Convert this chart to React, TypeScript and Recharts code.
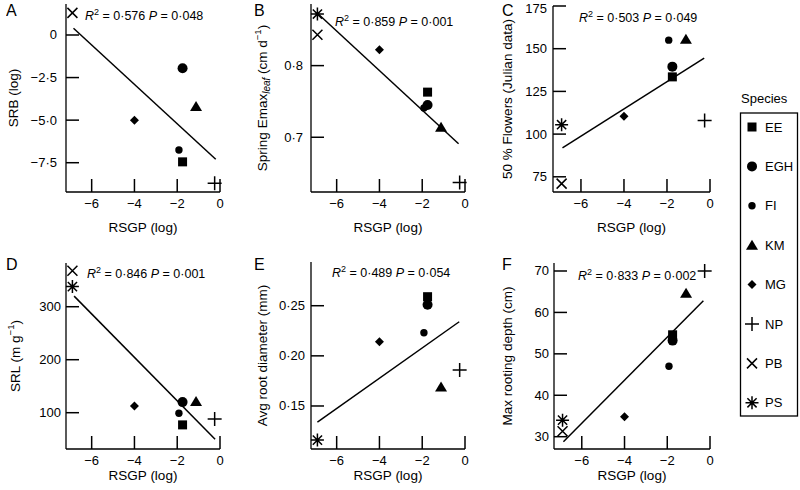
import React from "react";
import {
  ScatterChart,
  Scatter,
  XAxis,
  YAxis,
  ReferenceLine,
  Customized,
  Legend,
} from "recharts";

const FONT = '"Liberation Sans", Arial, Helvetica, sans-serif';

// species and their RSGP (log) value, shared by every panel
const species = ["EE", "EGH", "FI", "KM", "MG", "NP", "PB", "PS"];
const rsgp = [-1.75, -1.75, -1.92, -1.12, -4.0, -0.25, -6.9, -6.9];

// panel values, same order as species (null = not plotted)
const srb = [-7.45, -1.95, -6.75, -4.2, -5.0, -8.7, 1.3, null];
const emaxLeaf = [0.763, 0.745, 0.741, 0.714, 0.822, 0.637, 0.843, 0.872];
const flowers50 = [133.5, 139.5, 155, 155.5, 110.5, 108, 71, 105.5];
const srl = [77, 120, 99, 121, 112.5, 88, 368, 338];
const rootDiam = [0.259, 0.251, 0.223, 0.169, 0.214, 0.186, null, 0.116];
const rootDepth = [54.6, 53.2, 47, 64.6, 34.8, 70, 31.3, 34];

// regression lines: [x1, y1, x2, y2]
const fitA = [-6.85, 0.4, -0.2, -7.3];
const fitB = [-6.9, 0.873, -0.3, 0.691];
const fitC = [-6.86, 92, -0.27, 144.5];
const fitD = [-6.82, 320, -0.23, 50];
const fitE = [-6.9, 0.134, -0.27, 0.234];
const fitF = [-6.86, 28.8, -0.31, 62.8];

const r2Values = ["0·576", "0·859", "0·503", "0·846", "0·489", "0·833"];
const pValues = ["0·048", "0·001", "0·049", "0·001", "0·054", "0·002"];

const xTicks = [-6, -4, -2, 0];
const ticksA = [0, -2.5, -5, -7.5];
const ticksB = [0.8, 0.7];
const ticksC = [175, 150, 125, 100, 75];
const ticksD = [300, 200, 100];
const ticksE = [0.25, 0.2, 0.15];
const ticksF = [70, 60, 50, 40, 30];

const fmt = (d: number) => (v: number) =>
  v === 0 ? "0" : v.toFixed(d).replace("-", "\u2212").replace(".", "·");

const TICK_LEN = 13;
const AXIS_W = 60;
const TOP_M = 12;

function Marker({ cx, cy, kind }: { cx: number; cy: number; kind: string }) {
  const s = { stroke: "#000", strokeWidth: 1.5, fill: "none" };
  switch (kind) {
    case "EE":
      return <rect x={cx - 4.5} y={cy - 4.5} width={9} height={9} fill="#000" />;
    case "EGH":
      return <circle cx={cx} cy={cy} r={5} fill="#000" />;
    case "FI":
      return <circle cx={cx} cy={cy} r={3.7} fill="#000" />;
    case "KM":
      return (
        <polygon
          points={`${cx},${cy - 5.5} ${cx + 6},${cy + 4.5} ${cx - 6},${cy + 4.5}`}
          fill="#000"
        />
      );
    case "MG":
      return (
        <polygon
          points={`${cx},${cy - 4.5} ${cx + 4.5},${cy} ${cx},${cy + 4.5} ${cx - 4.5},${cy}`}
          fill="#000"
        />
      );
    case "NP":
      return (
        <path d={`M${cx - 7},${cy}H${cx + 7}M${cx},${cy - 7}V${cy + 7}`} {...s} />
      );
    case "PB":
      return (
        <path
          d={`M${cx - 5},${cy - 5}L${cx + 5},${cy + 5}M${cx - 5},${cy + 5}L${cx + 5},${cy - 5}`}
          {...s}
        />
      );
    default:
      return (
        <path
          d={`M${cx - 6.5},${cy}H${cx + 6.5}M${cx},${cy - 6.5}V${cy + 6.5}M${cx - 4.6},${cy - 4.6}L${cx + 4.6},${cy + 4.6}M${cx - 4.6},${cy + 4.6}L${cx + 4.6},${cy - 4.6}`}
          {...s}
        />
      );
  }
}

function SpeciesLegend() {
  return (
    <svg width={70} height={335} style={{ display: "block" }}>
      <text x={11} y={13} fontSize={13} fontFamily={FONT} dominantBaseline="central">
        Species
      </text>
      <rect x={10.5} y={28} width={57} height={303} fill="none" stroke="#000" strokeWidth={1.3} />
      {species.map((sp, i) => (
        <g key={sp}>
          <Marker cx={22} cy={42 + i * 39.4} kind={sp} />
          <text x={35} y={42 + i * 39.4} fontSize={13} fontFamily={FONT} dominantBaseline="central">
            {sp}
          </text>
        </g>
      ))}
    </svg>
  );
}

function YTick(props: any) {
  const { y, payload, gap, format } = props;
  return (
    <text
      x={AXIS_W - gap}
      y={y + (props.shift || 0)}
      textAnchor="end"
      dominantBaseline="central"
      fontSize={13}
      fontFamily={FONT}
      fill="#000"
    >
      {format(payload.value)}
    </text>
  );
}

function XTick(props: any) {
  const { x, payload, axisY } = props;
  return (
    <text
      x={x}
      y={axisY + 11.5}
      textAnchor="middle"
      dominantBaseline="central"
      fontSize={13}
      fontFamily={FONT}
      fill="#000"
    >
      {fmt(0)(payload.value)}
    </text>
  );
}

type PanelProps = {
  letter: string;
  letterX: number;
  letterY: number;
  left: number;
  top: number;
  w: number;
  h: number;
  xDomain: number[];
  yDomain: number[];
  yTicks: number[];
  yDec: number;
  yGap: number;
  yTitle: React.ReactNode;
  yTitleX: number;
  xTitleY: number;
  values: (number | null)[];
  fit: number[];
  idx: number;
  statX: number;
  statY: number;
  rightMargin?: number;
  legend?: boolean;
};

function Panel(p: PanelProps) {
  const ox = p.left - AXIS_W;
  const oy = p.top - TOP_M;
  const right = p.rightMargin ?? 12;
  const width = AXIS_W + p.w + right;
  const height = TOP_M + p.h + 45;
  const axisY = TOP_M + p.h;
  const axisStyle = { stroke: "#000", strokeWidth: 1.3 };
  const yFormat = fmt(p.yDec);
  // inward tick length in data units of each axis
  const xTickLen = (TICK_LEN * (p.xDomain[1] - p.xDomain[0])) / p.w;
  const yTickLen = (TICK_LEN * (p.yDomain[1] - p.yDomain[0])) / p.h;

  const overlay = () => (
    <g fontFamily={FONT} fill="#000">
      <text x={p.letterX - ox} y={p.letterY - oy} fontSize={16}>
        {p.letter}
      </text>
      <text x={p.statX - ox} y={p.statY - oy} fontSize={12.5}>
        <tspan fontStyle="italic">R</tspan>
        <tspan dy={-5} fontSize={9}>2</tspan>
        <tspan dy={5}>{" = " + r2Values[p.idx] + " "}</tspan>
        <tspan fontStyle="italic">P</tspan>
        <tspan>{" = " + pValues[p.idx]}</tspan>
      </text>
      <text
        transform={`translate(${p.yTitleX - ox},${p.top + p.h / 2 - oy}) rotate(-90)`}
        textAnchor="middle"
        dominantBaseline="central"
        fontSize={13.5}
      >
        {p.yTitle}
      </text>
      <text
        x={p.left + p.w / 2 - ox}
        y={p.xTitleY - oy}
        textAnchor="middle"
        dominantBaseline="central"
        fontSize={13.5}
      >
        RSGP (log)
      </text>
    </g>
  );

  return (
    <div style={{ position: "absolute", left: ox, top: oy }}>
      <ScatterChart
        width={width}
        height={height}
        margin={{ top: TOP_M, right, bottom: 0, left: 0 }}
      >
        <XAxis
          type="number"
          dataKey="x"
          domain={p.xDomain}
          ticks={xTicks}
          interval={0}
          height={45}
          axisLine={axisStyle}
          tickLine={false}
          tick={(tp: any) => <XTick {...tp} axisY={axisY} />}
        />
        <YAxis
          type="number"
          dataKey="y"
          domain={p.yDomain}
          ticks={p.yTicks}
          interval={0}
          width={AXIS_W}
          axisLine={axisStyle}
          tickLine={false}
          tick={(tp: any) => (
            <YTick
              {...tp}
              gap={p.yGap}
              format={yFormat}
              shift={tp.y < TOP_M + 4 ? 2 : 0}
            />
          )}
        />
        {xTicks.map((t) => (
          <ReferenceLine
            key={"xt" + t}
            segment={[
              { x: t, y: p.yDomain[0] },
              { x: t, y: p.yDomain[0] + yTickLen },
            ]}
            stroke="#000"
            strokeWidth={1.5}
            ifOverflow="visible"
          />
        ))}
        {p.yTicks.map((t) => (
          <ReferenceLine
            key={"yt" + t}
            segment={[
              { x: p.xDomain[0], y: t },
              { x: p.xDomain[0] + xTickLen, y: t },
            ]}
            stroke="#000"
            strokeWidth={1.5}
            ifOverflow="visible"
          />
        ))}
        <ReferenceLine
          segment={[
            { x: p.fit[0], y: p.fit[1] },
            { x: p.fit[2], y: p.fit[3] },
          ]}
          stroke="#000"
          strokeWidth={1.5}
          ifOverflow="visible"
        />
        {species.map((sp, i) =>
          p.values[i] === null ? null : (
            <Scatter
              key={sp}
              name={sp}
              data={[{ x: rsgp[i], y: p.values[i] }]}
              isAnimationActive={false}
              shape={(sh: any) => <Marker cx={sh.cx} cy={sh.cy} kind={sp} />}
            />
          )
        )}
        <Customized component={overlay} />
        {p.legend && (
          <Legend
            layout="vertical"
            align="center"
            verticalAlign="middle"
            content={() => <SpeciesLegend />}
            wrapperStyle={{ left: 730 - ox, top: 85 - oy, width: 70, height: 335 }}
          />
        )}
      </ScatterChart>
    </div>
  );
}

const emaxTitle = (
  <>
    <tspan>Spring Emax</tspan>
    <tspan dy={3.5} fontSize={10} fontStyle="italic">leaf</tspan>
    <tspan dy={-3.5}> (cm d</tspan>
    <tspan dy={-5} fontSize={9.5}>{"\u22121"}</tspan>
    <tspan dy={5}>)</tspan>
  </>
);

const srlTitle = (
  <>
    <tspan>SRL (m g</tspan>
    <tspan dy={-5} fontSize={9.5}>{"\u22121"}</tspan>
    <tspan dy={5}>)</tspan>
  </>
);

const panels: PanelProps[] = [
  {
    letter: "A", letterX: 6, letterY: 16, left: 66, top: 4, w: 154, h: 188,
    xDomain: [-7.2, 0], yDomain: [-9.22, 1.82], yTicks: ticksA, yDec: 1, yGap: 9,
    yTitle: "SRB (log)", yTitleX: 13, xTitleY: 227,
    values: srb, fit: fitA, idx: 0, statX: 85, statY: 19.5,
  },
  {
    letter: "B", letterX: 254, letterY: 16, left: 311, top: 4, w: 154, h: 188,
    xDomain: [-7.2, 0], yDomain: [0.6236, 0.886], yTicks: ticksB, yDec: 1, yGap: 8,
    yTitle: emaxTitle, yTitleX: 262, xTitleY: 227,
    values: emaxLeaf, fit: fitB, idx: 1, statX: 335, statY: 25.5,
  },
  {
    letter: "C", letterX: 502, letterY: 16, left: 553, top: 6, w: 157, h: 186,
    xDomain: [-7.3, 0], yDomain: [66.1, 175], yTicks: ticksC, yDec: 0, yGap: 6,
    yTitle: "50 % Flowers (Julian data)", yTitleX: 507, xTitleY: 227,
    values: flowers50, fit: fitC, idx: 2, statX: 579, statY: 21.5,
    rightMargin: 90, legend: true,
  },
  {
    letter: "D", letterX: 6, letterY: 270, left: 66, top: 263, w: 154, h: 186,
    xDomain: [-7.2, 0], yDomain: [31.5, 382.5], yTicks: ticksD, yDec: 0, yGap: 5,
    yTitle: srlTitle, yTitleX: 15, xTitleY: 475.5,
    values: srl, fit: fitD, idx: 3, statX: 87, statY: 277.5,
  },
  {
    letter: "E", letterX: 254, letterY: 270, left: 311, top: 262, w: 154, h: 187,
    xDomain: [-7.2, 0], yDomain: [0.1071, 0.2936], yTicks: ticksE, yDec: 2, yGap: 6,
    yTitle: "Avg root diameter (mm)", yTitleX: 262, xTitleY: 475.5,
    values: rootDiam, fit: fitE, idx: 4, statX: 332, statY: 277,
  },
  {
    letter: "F", letterX: 502, letterY: 270, left: 554, top: 263, w: 156, h: 186,
    xDomain: [-7.3, 0], yDomain: [27.03, 71.93], yTicks: ticksF, yDec: 0, yGap: 5,
    yTitle: "Max rooting depth (cm)", yTitleX: 507, xTitleY: 475.5,
    values: rootDepth, fit: fitF, idx: 5, statX: 578, statY: 279.5,
  },
];

export default function App() {
  return (
    <div
      style={{
        position: "absolute",
        left: 0,
        top: 0,
        width: 800,
        height: 490,
        overflow: "hidden",
        background: "#fff",
      }}
    >
      {panels.map((p) => (
        <Panel key={p.letter} {...p} />
      ))}
    </div>
  );
}
